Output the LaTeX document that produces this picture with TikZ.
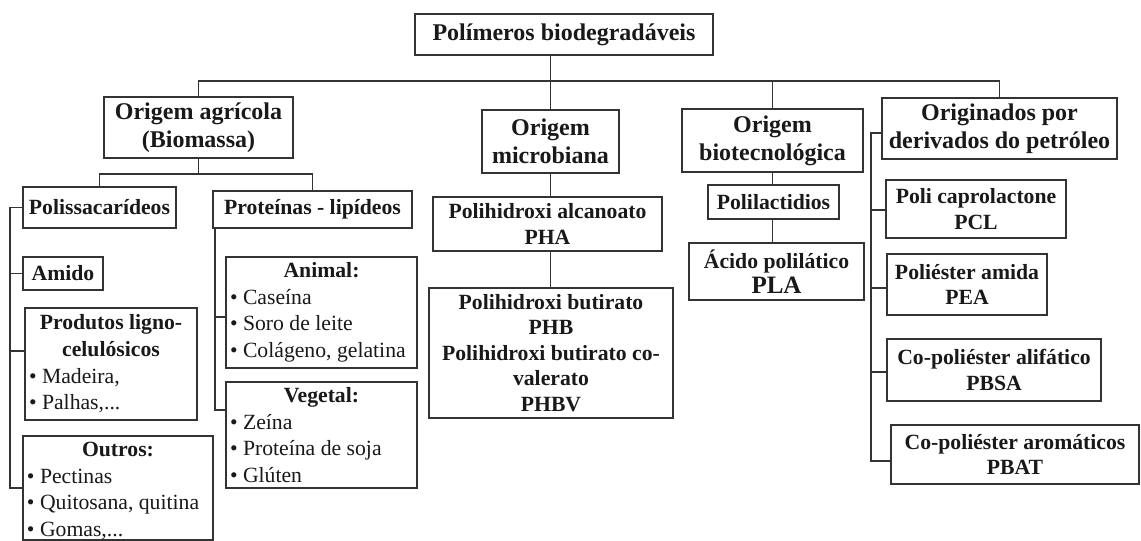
\documentclass[tikz,border=0pt]{standalone}
\usepackage{fontspec}
\setmainfont{Liberation Serif}
\setlength{\parindent}{0pt}
\definecolor{linec}{gray}{0.2}
\definecolor{textc}{gray}{0.1}
\begin{document}
\begin{tikzpicture}[x=1pt,y=-1pt,
  box/.style={draw=linec, line width=1.7pt, inner sep=3pt, text=textc, anchor=center},
  big/.style={font=\fontsize{24}{28}\selectfont\bfseries, align=center},
  mid/.style={font=\fontsize{21.7}{25.5}\selectfont\bfseries, align=center},
  list/.style={font=\fontsize{21.7}{26.6}\selectfont, align=flush left},
  conn/.style={draw=linec, line width=1.7pt}]
\useasboundingbox[fill=white] (0,0) rectangle (1141,541);

% level 0 and 1
\node[box,big,minimum width=298pt,minimum height=41pt] (top) at (564,34.5) {Polímeros biodegradáveis};
\node[box,big,minimum width=189pt,minimum height=61pt] (agr) at (198.5,127.5) {Origem agrícola\\(Biomassa)};
\node[box,big,minimum width=137pt,minimum height=63pt] (mic) at (550.5,141.5) {Origem\\microbiana};
\node[box,big,minimum width=181pt,minimum height=63pt] (bio) at (772.5,140.5) {Origem\\biotecnológica};
\node[box,big,minimum width=235pt,minimum height=61pt] (pet) at (999.5,128.5) {Originados por\\derivados do petróleo};

% agricultural branch
\node[box,mid,minimum width=153pt,minimum height=41pt] (polis) at (99.5,207.5) {Polissacarídeos};
\node[box,mid,minimum width=199pt,minimum height=37pt] (prot) at (312.5,209.5) {Proteínas - lipídeos};
\node[box,mid,minimum width=80pt,minimum height=33pt] (amido) at (63,273.5) {Amido};
\node[box,list,minimum width=172pt,minimum height=112pt,text width=164pt] (ligno) at (111,364)
  {{\centering\bfseries Produtos ligno-\\celulósicos\par}• Madeira,\\• Palhas,...};
\node[box,font=\fontsize{21.7}{26.6}\selectfont,inner sep=0pt,minimum width=190pt,minimum height=102pt] (outros) at (118,488)
  {\parbox[c][100pt][b]{182pt}{\raggedright{\centering\bfseries Outros:\par}• Pectinas\\• Quitosana, quitina\\• Gomas,...}};
\node[box,list,minimum width=191pt,minimum height=111pt,text width=183pt] (animal) at (321.5,312.5)
  {{\centering\bfseries Animal:\par}• Caseína\\• Soro de leite\\• Colágeno, gelatina};
\node[box,list,minimum width=191pt,minimum height=106pt,text width=183pt] (vegetal) at (321.5,435)
  {{\centering\bfseries Vegetal:\par}• Zeína\\• Proteína de soja\\• Glúten};

% microbial branch
\node[box,mid,minimum width=229pt,minimum height=54pt] (pha) at (547.5,224) {Polihidroxi alcanoato\\PHA};
\node[box,mid,inner sep=1pt,minimum width=244pt,minimum height=130pt] (phb) at (551,353)
  {Polihidroxi butirato\\PHB\\Polihidroxi butirato co-\\valerato\\PHBV};

% biotechnological branch
\node[box,mid,minimum width=131pt,minimum height=34pt] (polil) at (773.5,202) {Polilactidios};
\node[box,mid,minimum width=175pt,minimum height=57pt] (pla) at (776.5,271.5)
  {Ácido polilático\\{\fontsize{25}{28}\selectfont PLA}};

% petroleum branch
\node[box,mid,minimum width=180pt,minimum height=58pt] (pcl) at (976,209) {Poli caprolactone\\PCL};
\node[box,mid,minimum width=160pt,minimum height=61pt] (pea) at (967,284.5) {Poliéster amida\\PEA};
\node[box,mid,minimum width=214pt,minimum height=62pt] (pbsa) at (994,370) {Co-poliéster alifático\\PBSA};
\node[box,mid,minimum width=248pt,minimum height=59pt] (pbat) at (1015,454.5) {Co-poliéster aromáticos\\PBAT};

% connectors
\coordinate (busy) at (0,81);
\draw[conn] (agr.north) -- (agr.north |- busy) -| (pet.north);
\draw[conn] (top.south -| mic.north) -- (mic.north);
\draw[conn] (bio.north |- busy) -- (bio.north);

\coordinate (bustwo) at (0,174);
\draw[conn] (agr.south) -- (agr.south |- bustwo);
\draw[conn] (polis.north) -- (polis.north |- bustwo) -| (prot.north);

\coordinate (lb) at (10,0);
\draw[conn] (polis.west) -| (lb |- outros.west) -- (outros.west);
\draw[conn] (amido.west) -- (amido.west -| lb);
\draw[conn] ([yshift=13pt]ligno.west) -- ([yshift=13pt]ligno.west -| lb);

\coordinate (pb) at (215,0);
\draw[conn] (prot.south -| pb) |- ([yshift=25pt]vegetal.west);
\draw[conn] ([yshift=-4.5pt]animal.west) -- ([yshift=-4.5pt]animal.west -| pb);

\draw[conn] (mic.south) -- (mic.south |- pha.north);
\draw[conn] (mic.south |- pha.south) -- (mic.south |- phb.north);
\draw[conn] (bio.south) -- (bio.south |- polil.north);
\draw[conn] (bio.south |- polil.south) -- (bio.south |- pla.north);

\coordinate (rb) at (871,0);
\draw[conn] ([yshift=-4.5pt]pet.west) -| ([yshift=-6.5pt]pbat.west -| rb) -- ([yshift=-6.5pt]pbat.west);
\draw[conn] ([yshift=-1pt]pcl.west) -- ([yshift=-1pt]pcl.west -| rb);
\draw[conn] ([yshift=-3.5pt]pea.west) -- ([yshift=-3.5pt]pea.west -| rb);
\draw[conn] ([yshift=-2pt]pbsa.west) -- ([yshift=-2pt]pbsa.west -| rb);
\end{tikzpicture}
\end{document}
